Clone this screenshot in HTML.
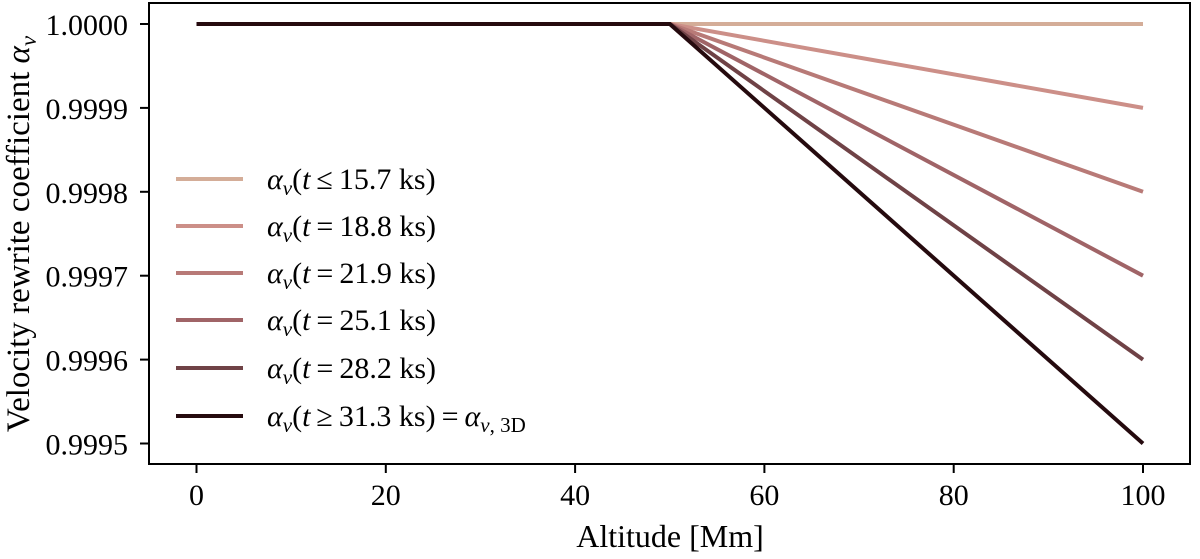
<!DOCTYPE html>
<html><head><meta charset="utf-8"><style>
body{margin:0;background:#fff;}
svg text{font-family:"Liberation Serif","Times New Roman",serif;fill:#000;}
</style></head><body>
<svg id="chart" width="1200" height="554" xmlns="http://www.w3.org/2000/svg" font-family="Liberation Serif, Times New Roman, serif">
<g id="marks"></g>
<g id="axes"></g>
<g id="legend"></g>
</svg>
<script>
const altitudes = [0, 50, 100];
const seriesLabels = ["t≤15.7", "t=18.8", "t=21.9", "t=25.1", "t=28.2", "t≥31.3"];
const s1 = [1.0, 1.0, 1.0];
const s2 = [1.0, 1.0, 0.9999];
const s3 = [1.0, 1.0, 0.9998];
const s4 = [1.0, 1.0, 0.9997];
const s5 = [1.0, 1.0, 0.9996];
const s6 = [1.0, 1.0, 0.9995];
const seriesValues = [s1, s2, s3, s4, s5, s6];
const colors = ["#d4ad98", "#cc8f88", "#b87a77", "#a06467", "#6f4246", "#250a0e"];
const xTicks = [0, 20, 40, 60, 80, 100];
const yTicks = [1.0, 0.9999, 0.9998, 0.9997, 0.9996, 0.9995];

const NS = "http://www.w3.org/2000/svg";
const L = 149, R = 1190, T = 3, B = 464;
function xs(v){ return 196.5 + (v - 0) * (1143 - 196.5) / 100; }
function ys(v){ return 24 + (1.0 - v) * (443.5 - 24) / 0.0005; }
function mk(tag, attrs, parent){ const e = document.createElementNS(NS, tag); for (const k in attrs) e.setAttribute(k, attrs[k]); parent.appendChild(e); return e; }

const marks = document.getElementById("marks");
const axes = document.getElementById("axes");
const legend = document.getElementById("legend");

seriesValues.forEach((vals, i) => {
  const d = vals.map((v, j) => (j ? "L" : "M") + xs(altitudes[j]).toFixed(1) + " " + ys(v).toFixed(1)).join(" ");
  const p = mk("path", {d: d, fill: "none", stroke: colors[i], "stroke-width": 4}, marks);
  
  
});

const frame = mk("rect", {x: L, y: T, width: R - L, height: B - T, fill: "none", stroke: "#000", "stroke-width": 2}, axes);



xTicks.forEach(v => {
  const x = xs(v);
  const t = mk("line", {x1: x, x2: x, y1: B, y2: B + 9, stroke: "#000", "stroke-width": 2}, axes);
  
  
  const tx = mk("text", {x: x, y: 505, "text-anchor": "middle", "font-size": 30}, axes);
  tx.textContent = v;
  
  
});
yTicks.forEach(v => {
  const y = ys(v);
  const t = mk("line", {x1: L - 9, x2: L, y1: y, y2: y, stroke: "#000", "stroke-width": 2}, axes);
  
  
  const tx = mk("text", {x: 128, y: y + 11, "text-anchor": "end", "font-size": 30}, axes);
  tx.textContent = v.toFixed(4);
  
  
});

const xt = mk("text", {x: 670, y: 547, "text-anchor": "middle", "font-size": 32}, axes);
xt.textContent = "Altitude [Mm]";



const yt = mk("text", {transform: "translate(29 234) rotate(-90)", "text-anchor": "middle", "font-size": 33}, axes);
yt.innerHTML = 'Velocity rewrite coefficient <tspan font-style="italic">α</tspan><tspan font-style="italic" font-size="23" dy="7">v</tspan>';



const legendY = [179, 226, 273, 320, 368, 416];
seriesLabels.forEach((lab, i) => {
  const y = legendY[i];
  const ln = mk("line", {x1: 176, x2: 243, y1: y, y2: y, stroke: colors[i], "stroke-width": 4}, legend);
  
  
  const tx = mk("text", {x: 267, y: y + 10, "font-size": 30}, legend);
  let html = '<tspan font-style="italic">α</tspan><tspan font-style="italic" font-size="21" dy="6">v</tspan><tspan dy="-6">(</tspan><tspan font-style="italic">t</tspan>\u2009' + lab.slice(1, 2) + '\u2009' + lab.slice(2) + ' ks)';
  if (i === 5) html += '\u2009=\u2009<tspan font-style="italic">α</tspan><tspan font-style="italic" font-size="21" dy="6">v</tspan><tspan font-size="21">, 3D</tspan>';
  tx.innerHTML = html;
  
  
});
</script>
</body></html>
